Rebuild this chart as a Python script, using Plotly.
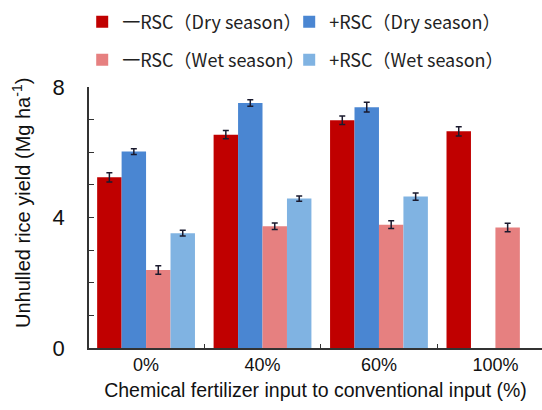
import plotly.graph_objects as go

categories = ["0%", "40%", "60%", "100%"]
series_names = ["一RSC（Dry season）", "+RSC（Dry season）", "一RSC（Wet season）", "+RSC（Wet season）"]
dry_minus = [5.23, 6.54, 6.98, 6.64]
dry_minus_err = [0.14, 0.13, 0.13, 0.14]
dry_plus = [6.02, 7.51, 7.38, None]
dry_plus_err = [0.09, 0.10, 0.15, None]
wet_minus = [2.39, 3.73, 3.78, 3.69]
wet_minus_err = [0.13, 0.10, 0.12, 0.13]
wet_plus = [3.52, 4.58, 4.64, None]
wet_plus_err = [0.09, 0.08, 0.11, None]
colors = ["#C00000", "#4A86D2", "#E68080", "#80B3E2"]

values = [dry_minus, dry_plus, wet_minus, wet_plus]
errors = [dry_minus_err, dry_plus_err, wet_minus_err, wet_plus_err]
legends = ["legend", "legend", "legend2", "legend2"]

fig = go.Figure()
for name, v, e, c, lg in zip(series_names, values, errors, colors, legends):
    fig.add_trace(go.Bar(
        x=categories, y=v, name=name, marker=dict(color=c, line=dict(width=0)),
        error_y=dict(type="data", array=e, visible=True, color="#1a1a2e", thickness=1.5, width=3),
        legend=lg,
    ))

W, H = 542, 410
ml, mr, mt, mb = 89, 0, 87, 62
ph = H - mt - mb

def py(pix):
    return (H - mb - pix) / ph

FONT = "Liberation Sans"
legend_font = dict(family="Noto Sans CJK SC", size=18, color="#222222")
fig.update_layout(
    width=W, height=H,
    margin=dict(l=ml, r=mr, t=mt, b=mb, pad=0),
    paper_bgcolor="white", plot_bgcolor="white",
    barmode="group", bargap=0.16, bargroupgap=0,
    showlegend=True,
    legend=dict(orientation="h", x=-0.015, xanchor="left", y=py(22), yanchor="middle",
                font=legend_font, entrywidth=162, itemclick=False, traceorder="normal",
                bgcolor="rgba(0,0,0,0)"),
    legend2=dict(orientation="h", x=-0.015, xanchor="left", y=py(60), yanchor="middle",
                 font=legend_font, entrywidth=162, itemclick=False, traceorder="normal",
                 bgcolor="rgba(0,0,0,0)"),
    xaxis=dict(
        range=[-0.49, 3.40], showline=True, linecolor="#333333", linewidth=1.5,
        ticks="inside", tickson="boundaries", ticklen=4, tickcolor="#333333", tickwidth=1.2,
        tickfont=dict(family=FONT, size=18, color="#111111"),
        title=dict(text="Chemical fertilizer input to conventional input (%)",
                   font=dict(family=FONT, size=19.5, color="#111111"), standoff=9),
        showgrid=False, zeroline=False,
    ),
    yaxis=dict(
        range=[0, 8], showline=True, linecolor="#333333", linewidth=1.5,
        tickvals=[0, 4, 8], ticks="inside", ticklen=5, tickcolor="#333333", tickwidth=1.2,
        minor=dict(dtick=1, ticks="inside", ticklen=5, tickcolor="#333333", tickwidth=1.2, showgrid=False),
        tickfont=dict(family=FONT, size=22, color="#111111"),
        ticklabelstandoff=18,
        showgrid=False, zeroline=False,
    ),
    annotations=[dict(
        text="Unhulled rice yield (Mg ha<sup>-1</sup>)", textangle=-90,
        xref="paper", yref="paper", x=(21 - ml) / (W - ml - mr), y=py(203),
        xanchor="center", yanchor="middle", showarrow=False,
        font=dict(family=FONT, size=20, color="#111111"),
    )],
)

fig.write_html("out.html")
